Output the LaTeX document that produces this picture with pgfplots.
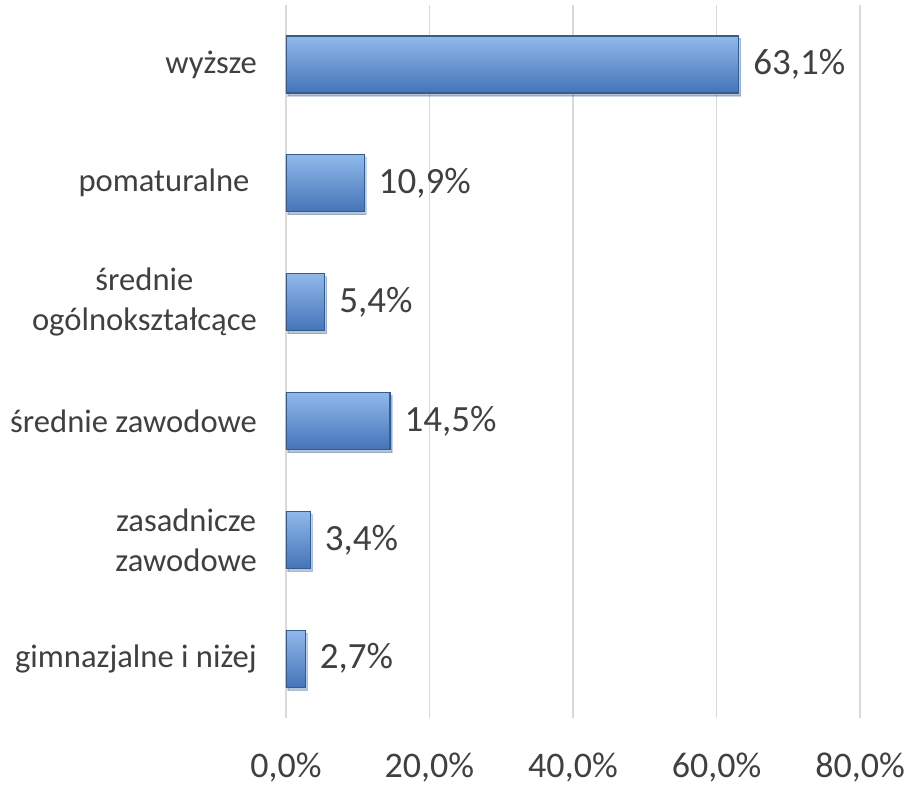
\documentclass[border=0pt]{standalone}
\usepackage{fontspec}
\setmainfont{Carlito}
\usepackage{pgfplots}
\pgfplotsset{compat=1.18}
\usetikzlibrary{shadows}

\definecolor{txt}{HTML}{404040}
\definecolor{gridc}{HTML}{D9D9D9}
\definecolor{bartop}{HTML}{90B8EA}
\definecolor{barmid}{HTML}{5A8ED4}
\definecolor{barbot}{HTML}{4474B8}
\definecolor{baredge}{HTML}{345C8E}

\pgfplotsset{
    edubar/.style={
        draw=baredge, line width=0.6pt,
        top color=bartop, middle color=barmid, bottom color=barbot,
        drop shadow={shadow xshift=1pt, shadow yshift=-1.5pt, opacity=0.25},
    },
}

\begin{document}
\begin{tikzpicture}
\begin{axis}[
    scale only axis,
    width=287pt, height=356.5pt,
    xbar, bar shift=0pt,
    bar width=28.5pt,
    xmin=0, xmax=80,
    ymin=-0.5, ymax=5.5,
    axis line style={draw=none},
    major tick length=0pt,
    xmajorgrids,
    grid style={gridc, line width=0.8pt},
    xtick={0,20,40,60,80},
    xticklabels={{0,0\%},{20,0\%},{40,0\%},{60,0\%},{80,0\%}},
    xticklabel style={font=\fontsize{18}{20}\selectfont, text=txt, yshift=-14pt},
    ytick={0,...,5},
    yticklabels={
        {gimnazjalne i niżej},
        {zasadnicze\\zawodowe},
        {średnie zawodowe},
        {średnie\\ogólnokształcące},
        {pomaturalne\ },
        {wyższe}},
    yticklabel style={font=\fontsize{16.3}{20}\selectfont, text=txt, align=center, xshift=-11pt},
    point meta=explicit symbolic,
    nodes near coords,
    every node near coord/.append style={font=\fontsize{18.5}{20}\selectfont, text=txt,
        anchor=west, inner sep=0pt, xshift=7pt},
]
% one plot per bar so that every bar gets its own shading
\addplot[edubar] coordinates {(2.7,0) [2,7\%]};
\addplot[edubar] coordinates {(3.4,1) [3,4\%]};
\addplot[edubar] coordinates {(14.5,2) [14,5\%]};
\addplot[edubar] coordinates {(5.4,3) [5,4\%]};
\addplot[edubar] coordinates {(10.9,4) [10,9\%]};
\addplot[edubar] coordinates {(63.1,5) [63,1\%]};
\coordinate (bl) at (axis description cs:-0.498,-0.098);
\coordinate (tr) at (axis description cs:1.087,1.007);
\end{axis}
\pgfresetboundingbox
\path (bl) rectangle (tr);
\end{tikzpicture}
\end{document}
